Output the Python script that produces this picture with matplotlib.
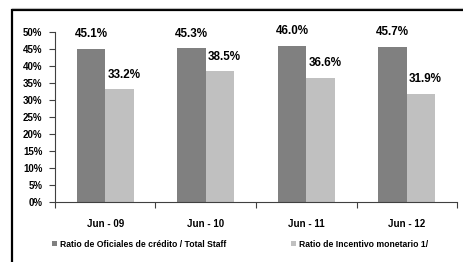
import numpy as np
import matplotlib.pyplot as plt
from matplotlib.patches import Rectangle
from matplotlib.ticker import PercentFormatter

# datos
categorias = ["Jun - 09", "Jun - 10", "Jun - 11", "Jun - 12"]
ratio_oficiales = [45.1, 45.3, 46.0, 45.7]
ratio_incentivo = [33.2, 38.5, 36.6, 31.9]
series = ["Ratio de Oficiales de crédito / Total Staff", "Ratio de Incentivo monetario 1/"]

plt.rcParams['font.family'] = ['Liberation Sans', 'DejaVu Sans']
plt.rcParams['font.weight'] = 'bold'

fig = plt.figure(figsize=(4.64, 2.62), dpi=100)
ax = fig.add_axes([0.1185, 0.229, 0.8665, 0.649])

x = np.arange(len(categorias))
w = 0.285
b1 = ax.bar(x - w / 2, ratio_oficiales, w, color='#808080', label=series[0])
b2 = ax.bar(x + w / 2, ratio_incentivo, w, color='#c0c0c0', label=series[1])

for bars, dx in ((b1, 0), (b2, 3)):
    for r in bars:
        ax.annotate(f"{r.get_height():.1f}%", (r.get_x() + r.get_width() / 2, r.get_height()),
                    xytext=(dx, 6), textcoords='offset points', ha='center', va='bottom',
                    fontsize=8.4, fontweight='bold')

ax.set_ylim(0, 50)
ax.set_yticks(np.arange(0, 51, 5))
ax.yaxis.set_major_formatter(PercentFormatter(decimals=0))
ax.set_xlim(-0.5, len(categorias) - 0.5)
ax.set_xticks(x)
ax.set_xticklabels(categorias, fontsize=7, fontweight='bold')
ax.set_xticks(np.arange(-0.5, len(categorias)), minor=True)
ax.tick_params(axis='x', which='major', length=0, pad=12)
ax.tick_params(axis='x', which='minor', length=4, color='#404040', width=0.8)
ax.tick_params(axis='y', length=4, color='#404040', width=0.8, labelsize=7, pad=5)
for lab in ax.get_yticklabels():
    lab.set_fontweight('bold')
for s in ['top', 'right']:
    ax.spines[s].set_visible(False)
for s in ['left', 'bottom']:
    ax.spines[s].set_color('#404040')
    ax.spines[s].set_linewidth(0.8)

fig.legend(handles=[b1, b2], labels=series, loc='center left', bbox_to_anchor=(0.095, 0.068),
           ncol=2, frameon=False, handlelength=0.6, handleheight=0.6,
           handletextpad=0.3, columnspacing=7.6, prop={'weight': 'bold', 'size': 6.2})

# marco
fig.patches.append(Rectangle((12 / 464, -0.1), 1.0, (262 - 10) / 262 + 0.1, transform=fig.transFigure,
                             fill=False, edgecolor='black', linewidth=1.6))
fig.lines.append(plt.Line2D([12 / 464, 1], [(262 - 7.5) / 262] * 2, transform=fig.transFigure,
                            color='#bbbbbb', linewidth=0.8))

fig.savefig("out.png", dpi=100)
